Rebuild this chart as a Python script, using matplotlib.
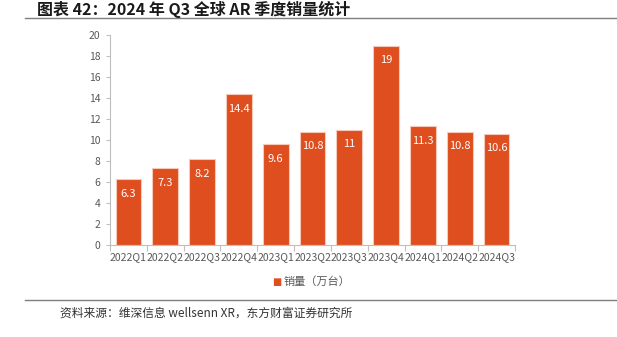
import matplotlib.pyplot as plt
from matplotlib.lines import Line2D

plt.rcParams['font.family'] = ['Noto Sans CJK SC', 'DejaVu Sans']

quarters = ['2022Q1', '2022Q2', '2022Q3', '2022Q4', '2023Q1', '2023Q2',
            '2023Q3', '2023Q4', '2024Q1', '2024Q2', '2024Q3']
sales = [6.3, 7.3, 8.2, 14.4, 9.6, 10.8, 11, 19, 11.3, 10.8, 10.6]
labels = ['6.3', '7.3', '8.2', '14.4', '9.6', '10.8', '11', '19', '11.3', '10.8', '10.6']

BAR = '#DE4E1E'
GREY = '#595959'
AXC = '#BFBFBF'

W, H = 617, 337
fig = plt.figure(figsize=(W / 100, H / 100), dpi=100)

# axes box in pixel coords: x 110..515, y 35..245
ax = fig.add_axes([110 / W, 1 - 245 / H, (515 - 110) / W, (245 - 35) / H])
x = range(len(quarters))
ax.bar(x, sales, width=0.7, color=BAR, edgecolor='#F6C9B8', linewidth=0.8)
for i, (v, t) in enumerate(zip(sales, labels)):
    ax.text(i, v - 1.4, t, ha='center', va='center', color='white', fontsize=8)

ax.set_xlim(-0.5, len(quarters) - 0.5)
ax.set_ylim(0, 20)
ax.set_yticks(range(0, 21, 2))
ax.set_xticks(list(x))
ax.set_xticklabels(quarters)
ax.set_xticks([i + 0.5 for i in range(-1, len(quarters))], minor=True)
ax.tick_params(axis='x', which='major', length=0, labelsize=7.5, labelcolor=GREY, pad=5)
ax.tick_params(axis='x', which='minor', length=4, color=AXC, width=0.8)
ax.tick_params(axis='y', length=3, color=AXC, width=0.8, labelsize=7.5, labelcolor=GREY, pad=4)
for s in ['top', 'right']:
    ax.spines[s].set_visible(False)
for s in ['left', 'bottom']:
    ax.spines[s].set_color(AXC)
    ax.spines[s].set_linewidth(0.8)

# legend
fig.text(277 / W, 1 - 282 / H, '■', color=BAR, fontsize=7, ha='center', va='center',
         family=['DejaVu Sans'])
fig.text(284 / W, 1 - 282 / H, '销量（万台）', color=GREY, fontsize=8, ha='left', va='center')

# title and rules
fig.text(37 / W, 1 - 9 / H, '图表 42：2024 年 Q3 全球 AR 季度销量统计', fontsize=11.5,
         fontweight='bold', ha='left', va='center', color='#1a1a1a')
fig.add_artist(Line2D([25 / W, 1.0], [1 - 18 / H, 1 - 18 / H], color='#7f7f7f', lw=1.0))
fig.add_artist(Line2D([25 / W, 1.0], [1 - 300 / H, 1 - 300 / H], color='#7f7f7f', lw=1.0))
fig.text(60 / W, 1 - 313 / H, '资料来源：维深信息 wellsenn XR，东方财富证券研究所', fontsize=8.5,
         ha='left', va='center', color='#333333')

fig.savefig('out.png', dpi=100)
